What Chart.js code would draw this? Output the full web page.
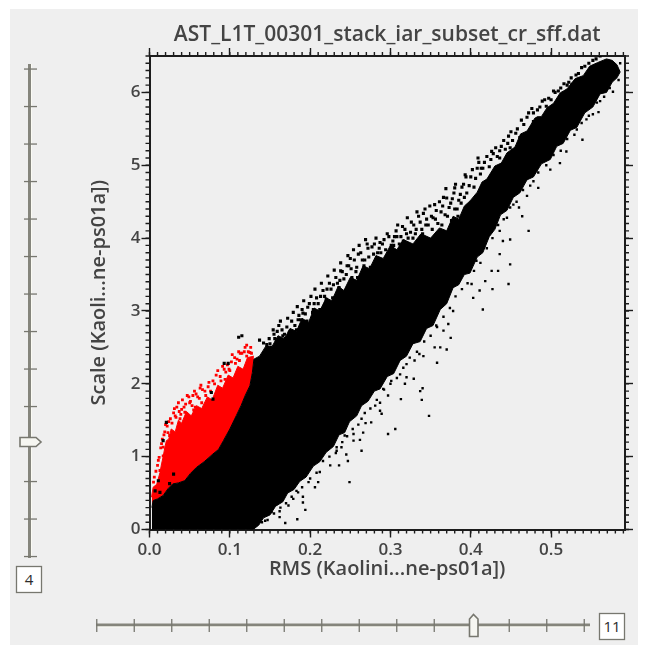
<!DOCTYPE html>
<html><head><meta charset="utf-8">
<script src="https://cdn.jsdelivr.net/npm/chart.js@4/dist/chart.umd.min.js"></script>
<style>
html,body{margin:0;padding:0;background:#fff;}
#wrap{position:absolute;left:0;top:0;width:647px;height:645px;overflow:hidden;}
#panel{position:absolute;left:10px;top:9px;width:628px;height:636px;background:#efefef;}
canvas{position:absolute;left:0;top:0;}
svg{position:absolute;left:0;top:0;}
</style></head><body>
<div id="wrap"><div id="panel"></div>
<svg id="sl" width="647" height="645"></svg>
<canvas id="c" width="647" height="645"></canvas></div>
<script>
const titleText = "AST_L1T_00301_stack_iar_subset_cr_sff.dat";
const xLabel = "RMS (Kaolini...ne-ps01a])";
const yLabel = "Scale (Kaoli...ne-ps01a])";
const verticalSliderValue = "4";
const horizontalSliderValue = "11";

const blackTopX = [.003,.0045,.010,.017,.023,.029,.036,.044,.051,.0585,.068,.079,.086,.092,.100,.108,.114,.119,.125,.128,.130,
.137,.145,.152,.160,.168,.175,.183,.190,.198,.205,.212,.220,.227,.235,.242,.250,.258,.266,.274,.282,.291,.300,.308,.316,.328,.338,.350,.361,.370,.378,.385,.392,.399,.408,.414,.420,.430,.438,.445,.455,.462,.470,.480,.488,.495,.503,.511,.520,.530,.540,.548,.558,.569,.576,.582,.586];
const blackTopY = [.30,.397,.42,.466,.56,.626,.64,.671,.77,.853,.93,1.037,1.10,1.219,1.379,1.562,1.70,1.836,1.973,2.15,2.338,
2.38,2.52,2.50,2.66,2.62,2.76,2.72,2.90,2.84,3.04,3.0,3.18,3.14,3.34,3.28,3.46,3.42,3.62,3.58,3.76,3.72,3.90,3.84,3.98,3.92,4.06,4.0,4.14,4.10,4.30,4.26,4.44,4.51,4.63,4.77,4.81,4.99,5.03,5.17,5.25,5.43,5.47,5.65,5.67,5.79,5.85,5.99,6.05,6.19,6.23,6.36,6.41,6.46,6.44,6.38,6.28];
const blackLowX = [.003,.129,.136,.142,.150,.157,.166,.172,.180,.187,.195,.204,.212,.220,.229,.236,.243,.249,.258,.264,.272,.280,.287,.296,.304,.312,.320,.328,.337,.345,.353,.362,.370,.378,.385,.392,.399,.408,.415,.423,.430,.437,.445,.453,.461,.470,.478,.488,.499,.507,.515,.524,.532,.542,.552,.561,.569,.576,.582,.586];
const blackLowY = [0,0,.06,.16,.20,.32,.38,.50,.55,.66,.72,.87,.93,1.06,1.14,1.30,1.33,1.48,1.56,1.70,1.76,1.90,1.93,2.10,2.14,2.32,2.38,2.55,2.58,2.76,2.80,3.02,3.10,3.32,3.36,3.50,3.52,3.74,3.80,4.02,4.12,4.32,4.38,4.56,4.62,4.80,4.84,5.02,5.08,5.26,5.30,5.48,5.52,5.72,5.80,5.98,6.0,6.14,6.20,6.28];
const redTopX = [.0025,.0045,.009,.013,.015,.017,.019,.021,.024,.027,.032,.036,.040,.046,.052,.0585,.065,.072,.078,.085,.091,.098,.104,.110,.1165,.122,.130];
const redTopY = [.443,.58,.62,.78,.90,1.0,1.12,1.22,1.24,1.38,1.34,1.50,1.46,1.62,1.56,1.70,1.66,1.82,1.78,1.98,1.94,2.12,2.08,2.24,2.20,2.36,2.38];

const redDotX = [.121,.115,.112,.121,.100,.094,.063,.054,.050,.040,.046,.032,.021,.038,.054,.061,.025,.017,.013,.005,.075,.086,.098,.117,.125,.065,.017,.023,.044,.057,
.006,.010,.012,.014,.016,.019,.022,.026,.030,.034,.037,.041,.045,.049,.053,.056,.060,.064,.069,.073,.079,.083,.088,.093,.097,.102,.106,.111,.118,.126,
.008,.011,.015,.018,.020,.024,.028,.031,.033,.036,.039,.043,.047,.051,.055,.058,.062,.066,.070,.074,.076,.081,.085,.089,.091,.095,.099,.103,.107,.109,.113,.119,.123,.127];
const redDotY = [2.53,2.42,2.32,2.38,2.18,2.06,1.94,1.84,1.74,1.65,1.56,1.56,1.47,1.52,1.52,1.38,1.29,1.01,.81,.65,1.77,1.93,1.90,2.18,2.43,1.74,1.13,1.33,1.61,1.68,
.72,.88,.99,1.12,1.24,1.34,1.42,1.52,1.60,1.68,1.62,1.78,1.72,1.82,1.70,1.90,1.82,1.98,1.90,1.96,2.04,2.12,2.10,2.20,2.26,2.30,2.36,2.44,2.44,2.50,
.80,.95,1.18,1.30,1.44,1.48,1.46,1.66,1.54,1.74,1.58,1.68,1.84,1.76,1.64,1.86,1.80,1.92,1.84,2.02,1.90,2.00,2.18,2.04,2.24,2.16,2.20,2.40,2.28,2.34,2.42,2.50,2.44,2.42];

const upperDotX = [.017,.021,.077,.079,.030,.025,.011,.007,.013,.111,.115,.137,.093,.098,
.150,.156,.163,.168,.175,.185,.191,.197,.205,.213,.221,.229,.237,.245,
.238,.246,.250,.258,.260,.268,.272,.280,.283,.288,.292,
.304,.308,.316,.320,.324,.328,.332,.340,.344,.352,.356,.364,.368,.376,.380,.384,.388,.392,
.370,.380,.393,.409,.413,.426,.436,.449,.461,.478,.484,.494,.515,.526,.540,
.142,.149,.155,.147,.159,.166,.171,.163,.177,.183,.186,.190,.196,.199,.204,.208,.212,.216,.220,.224,.228,.232,.236,.240,.244,.248,.252,.255,.259,.263,.267,.271,.275,.279,.284,.287,.294,.298,.303,.307,.311,.315,.322,.326,.331,.335,.339,.343,.347,.351,.355,.359,.363,.366,.371,.375,.379,.383,.387,.391,.395,.400,.404,.408,.412,.417,.423,.428,.433,.438,.443,.447,.452,.458,.466,.472,.478,.486,.492,.500,.505,.512,.520,.525,.534,.542,.552,.561,
.146,.151,.154,.158,.161,.165,.169,.172,.174,.179,.181,.184,.188,.192,.194,.201,.203,.206,.210,.214,.218,.222,.226,.230,.234,.238,.242,.247,.251,.254,.257,.261,.265,.269,.273,.277,.282,.286,.290,.296,.301,.305,.309,.313,.318,.321,.325,.329,.333,.337,.341,.345,.349,.353,.357,.361,.365,.369,.373,.377,.381,.385,.389,.394,.398,.402,.406,.410,.415,.420,.425,.431,.436,.441,.446,.450,.456,.463,.470,.476,.483,.489,.497,.503,.509,.516,.522,.531,.538,.547,.556];
const upperDotY = [1.22,1.47,1.88,1.79,.76,.63,.67,.53,.51,2.64,2.66,2.60,2.28,2.28,
2.55,2.62,2.60,2.68,2.72,2.88,2.97,3.05,3.10,3.20,3.30,3.36,3.42,3.50,
3.55,3.62,3.72,3.60,3.78,3.70,3.86,3.92,3.66,3.80,3.98,
3.90,4.02,3.96,4.06,3.88,4.00,4.12,4.06,4.18,4.12,4.26,4.18,4.32,4.24,4.40,4.30,4.48,4.56,
4.55,4.69,4.87,5.10,4.96,5.19,5.10,5.24,5.38,5.60,5.65,5.81,5.99,6.11,6.17,
2.56,2.62,2.68,2.50,2.72,2.66,2.78,2.86,2.86,2.74,2.94,3.02,2.86,3.10,3.02,3.18,3.02,3.28,3.16,3.38,3.18,3.46,3.32,3.54,3.28,3.62,3.46,3.70,3.46,3.80,3.62,3.92,3.60,3.78,3.80,3.94,3.84,4.02,3.96,4.10,3.92,4.16,4.00,4.22,4.06,4.30,4.12,4.40,4.18,4.30,4.46,4.20,4.36,4.56,4.30,4.48,4.62,4.40,4.60,4.74,4.62,4.84,4.70,4.96,4.88,5.04,4.98,5.16,5.12,5.26,5.22,5.40,5.34,5.50,5.56,5.72,5.72,5.80,5.90,5.90,6.0,6.06,6.10,6.20,6.26,6.36,6.44,6.50,
2.54,2.50,2.74,2.58,2.80,2.74,2.62,2.90,2.70,2.98,2.80,3.06,2.88,3.14,2.96,3.20,2.98,3.30,3.10,3.38,3.20,3.48,3.30,3.56,3.38,3.66,3.44,3.76,3.58,3.84,3.54,3.90,3.70,3.98,3.74,3.88,4.0,3.86,3.92,4.06,3.90,4.02,4.18,4.02,4.12,4.28,4.08,4.18,4.36,4.22,4.34,4.26,4.44,4.28,4.38,4.50,4.44,4.68,4.42,4.54,4.74,4.52,4.70,4.84,4.72,4.94,4.82,5.04,4.96,5.12,5.08,5.24,5.20,5.34,5.30,5.46,5.44,5.62,5.66,5.78,5.76,5.88,5.92,6.02,6.02,6.12,6.14,6.24,6.34,6.40,6.46];

const lowerDotX = [.137,.144,.152,.162,.169,.184,.194,.191,.191,.162,.158,.166,.173,.175,.179,.185,.198,.206,.210,.212,.225,.236,.247,.249,.233,.245,.206,
.264,.276,.269,.266,.254,.262,.254,.243,.233,.239,.297,.306,.313,.339,.337,.340,.348,.329,.358,.287,.289,.281,.287,.297,.291,.301,.318,.320,.312,.320,.330,.336,.341,.355,.362,.370,.375,.366,.357,.372,.378,.264,
.447,.472,.464,.539,.559,.577,.511,.484,.460,.449,.440,.449,.434,.427,.415,.403,.411,.401,.436,.426,.418,.407,.428,.445,.436,.453,.470,.478,.499,.519,.532,.544,.552,.561,.584,.586,
.140,.147,.155,.163,.170,.177,.183,.190,.200,.208,.216,.224,.232,.240,.246,.253,.260,.268,.275,.283,.292,.300,.308,.316,.324,.333,.342,.350,.358,.366,.374,.381,.389,.396,.404,.412,.420,.427,.434,.441,.449,.457,.465,.474,.484,.494,.503,.512,.520,.529,.538,.547,.557,.566,.573];
const lowerDotY = [.19,.12,.24,.17,.09,.14,.27,.37,.45,.25,.35,.44,.33,.57,.42,.51,.65,.58,.65,.79,.88,.88,.94,.65,1.08,1.03,.92,
1.08,1.47,1.46,1.33,1.31,1.23,1.22,1.29,1.13,1.13,1.31,1.38,1.79,1.78,1.90,1.94,1.56,2.07,2.29,1.63,1.59,1.70,1.74,1.84,1.93,2.04,2.00,2.09,2.13,2.27,2.32,2.41,2.38,2.50,2.50,2.47,2.63,2.73,2.80,2.82,3.0,1.52,
3.37,4.10,4.30,5.35,5.73,6.01,5.03,4.69,4.42,3.98,3.96,3.64,3.55,3.30,3.02,3.18,3.28,3.37,3.78,3.55,3.41,3.69,4.28,4.28,4.10,4.46,4.58,4.78,4.94,5.19,5.49,5.63,5.70,5.88,6.17,6.40,
.10,.13,.22,.30,.36,.45,.53,.58,.70,.78,.94,1.0,1.05,1.2,1.28,1.38,1.44,1.6,1.66,1.78,1.92,2.0,2.08,2.22,2.36,2.44,2.58,2.66,2.78,2.92,3.04,3.2,3.3,3.38,3.55,3.66,3.86,4.0,4.18,4.26,4.42,4.5,4.66,4.72,4.9,5.0,5.14,5.2,5.36,5.42,5.58,5.68,5.86,5.94,6.06];

const xMin = 0, xMax = 0.592, yMin = 0, yMax = 6.5;
const xMinorStep = 0.01, yMinorStep = 0.1;
const xMajorTicks = [0, .1, .2, .3, .4, .5];
const yMajorTicks = [0, 1, 2, 3, 4, 5, 6];

const pts = (xs, ys) => xs.map((x, i) => ({x, y: ys[i]}));
const ink = "#1c1c1c", textInk = "#444444", fontName = "'Open Sans', sans-serif";

const minorTicks = {
  id: "minorTicks",
  afterDraw(chart) {
    const {ctx, chartArea: a, scales: {x, y}} = chart;
    ctx.save(); ctx.strokeStyle = ink; ctx.lineWidth = 1.4; ctx.beginPath();
    for (let i = 0; xMin + i * xMinorStep <= xMax + 1e-9; i++) {
      const p = x.getPixelForValue(xMin + i * xMinorStep);
      ctx.moveTo(p, a.bottom); ctx.lineTo(p, a.bottom + 4);
      ctx.moveTo(p, a.top); ctx.lineTo(p, a.top - 4);
    }
    for (let i = 0; yMin + i * yMinorStep <= yMax + 1e-9; i++) {
      const p = y.getPixelForValue(yMin + i * yMinorStep);
      ctx.moveTo(a.left, p); ctx.lineTo(a.left - 4, p);
      ctx.moveTo(a.right, p); ctx.lineTo(a.right + 4, p);
    }
    ctx.stroke(); ctx.restore();
  }
};

const axisBase = {
  grid: {drawOnChartArea: false, tickColor: ink, tickWidth: 1.4, tickLength: 8},
  border: {color: ink, width: 2}
};
const hiddenLabels = {display: false};
const useTicks = list => s => { s.ticks = list.map(value => ({value})); };

new Chart(document.getElementById("c"), {
  type: "scatter",
  plugins: [minorTicks],
  data: {datasets: [
    {label: "upper scatter", data: pts(upperDotX, upperDotY), pointStyle: "rect", pointRadius: 2.2, pointHoverRadius: 2.2, backgroundColor: "#000", borderWidth: 0},
    {label: "lower scatter", data: pts(lowerDotX, lowerDotY), pointStyle: "rect", pointRadius: 1.7, pointHoverRadius: 1.7, backgroundColor: "#000", borderWidth: 0},
    {label: "selected scatter", data: pts(redDotX, redDotY), pointStyle: "rect", pointRadius: 2, pointHoverRadius: 2, backgroundColor: "#ff0000", borderWidth: 0},
    {label: "black upper", data: pts(blackTopX, blackTopY), showLine: true, pointRadius: 0, borderColor: "#000", borderWidth: 1, backgroundColor: "#000", fill: 4},
    {label: "black lower", data: pts(blackLowX, blackLowY), showLine: true, pointRadius: 0, borderColor: "#000", borderWidth: 1, fill: false},
    {label: "red upper", data: pts(redTopX, redTopY), showLine: true, pointRadius: 0, borderColor: "#ff0000", borderWidth: 1, backgroundColor: "#ff0000", fill: 3}
  ]},
  options: {
    responsive: false, animation: false,
    events: [],
    layout: {padding: {left: 87, right: 10, top: 22.5, bottom: 63.5}},
    plugins: {
      legend: {display: false}, tooltip: {enabled: false},
      title: {display: true, text: titleText, fullSize: false, color: textInk, font: {family: fontName, size: 21, weight: "600"}, padding: {top: 0, bottom: 0}}
    },
    scales: {
      x: {...axisBase, type: "linear", min: xMin, max: xMax, position: "bottom",
        afterBuildTicks: useTicks(xMajorTicks),
        ticks: {color: textInk, padding: 2, maxRotation: 0, font: {family: fontName, size: 17, weight: "600"}, callback: v => v.toFixed(1)},
        title: {display: true, text: xLabel, color: textInk, padding: {top: 2, bottom: 0}, font: {family: fontName, size: 20, weight: "600"}},
        afterFit(s) { s.height = 52; }},
      x2: {...axisBase, type: "linear", min: xMin, max: xMax, position: "top", ticks: hiddenLabels,
        afterBuildTicks: useTicks(xMajorTicks),
        afterFit(s) { s.height = 8.3; }},
      y: {...axisBase, type: "linear", min: yMin, max: yMax, position: "left",
        afterBuildTicks: useTicks(yMajorTicks),
        ticks: {color: textInk, padding: 1, font: {family: fontName, size: 17, weight: "600"}, callback: v => String(v)},
        title: {display: true, text: yLabel, color: textInk, padding: {top: 0, bottom: 2}, font: {family: fontName, size: 20, weight: "600"}},
        afterFit(s) { s.width = 62.5; }},
      y2: {...axisBase, type: "linear", min: yMin, max: yMax, position: "right", ticks: hiddenLabels,
        afterBuildTicks: useTicks(yMajorTicks),
        afterFit(s) { s.width = 12; }}
    }
  }
});

/* slider widgets */
const ns = "http://www.w3.org/2000/svg", sl = document.getElementById("sl");
function el(n, a, t) { const e = document.createElementNS(ns, n); for (const k in a) e.setAttribute(k, a[k]); if (t) e.textContent = t; sl.appendChild(e); }
const tickStep = 37.5, trackColor = "#85857c", edge = "#77776f";
el("rect", {x: 28, y: 64, width: 3, height: 494, fill: trackColor});
el("rect", {x: 31, y: 64, width: 1, height: 494, fill: "#fbfbf4"});
el("rect", {x: 96, y: 623.5, width: 494, height: 3, fill: trackColor});
el("rect", {x: 96, y: 626.5, width: 494, height: 1, fill: "#fbfbf4"});
for (let i = 0; i < 14; i++) {
  const vy = 69 + i * tickStep, hx = 96.7 + i * tickStep;
  el("rect", {x: 24, y: vy - .6, width: 13, height: 1.3, fill: edge});
  el("rect", {x: hx - .6, y: 619, width: 1.3, height: 13, fill: edge});
}
el("path", {d: "M20 437.5H36L41 442L36 446.5H20Z", fill: "#f6f6f1", stroke: edge, "stroke-width": 1.6});
el("path", {d: "M469.5 636.5V619L473.5 614.5L478 619V636.5Z", fill: "#f6f6f1", stroke: edge, "stroke-width": 1.6});
el("rect", {x: 16.5, y: 566.5, width: 25, height: 26, fill: "#fff", stroke: "#77776f", "stroke-width": 1.3});
el("rect", {x: 599.5, y: 613.5, width: 25, height: 26, fill: "#fff", stroke: "#77776f", "stroke-width": 1.3});
el("text", {x: 29, y: 585, "text-anchor": "middle", "font-family": "'Open Sans',sans-serif", "font-size": 15, fill: "#2b2b2b"}, verticalSliderValue);
el("text", {x: 612, y: 632, "text-anchor": "middle", "font-family": "'Open Sans',sans-serif", "font-size": 15, fill: "#2b2b2b"}, horizontalSliderValue);
</script>
</body></html>
